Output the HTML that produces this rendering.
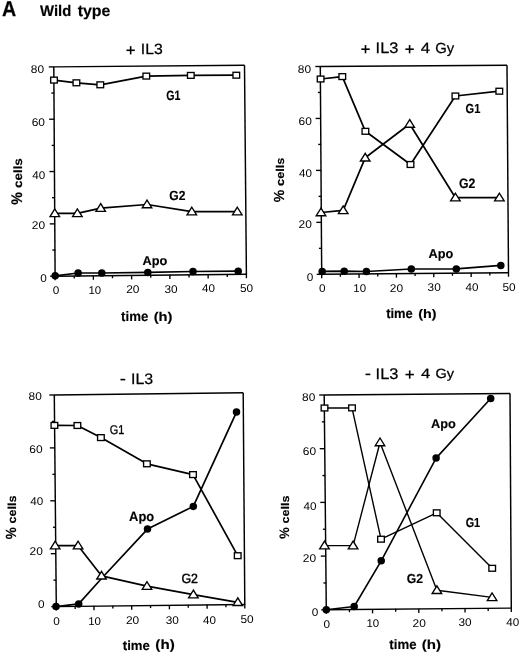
<!DOCTYPE html>
<html><head><meta charset="utf-8"><style>
html,body{margin:0;padding:0;background:#fff;}
body{width:520px;height:655px;overflow:hidden;}
svg{display:block;font-family:"Liberation Sans", sans-serif;filter:grayscale(1);text-rendering:geometricPrecision;}
</style></head><body>
<svg width="520" height="655" viewBox="0 0 520 655" stroke="#000" fill="#000" stroke-linecap="butt">
<text transform="translate(1.91,16.40) scale(0.9124,1)" font-size="21.59" font-weight="bold" stroke="#000" stroke-width="0.25" stroke-linejoin="round">A</text>
<text transform="translate(40.10,15.70) scale(0.9660,1)" font-size="15.36" font-weight="bold" stroke="#000" stroke-width="0.15" stroke-linejoin="round">Wild</text>
<text transform="translate(77.64,15.70) scale(1.0045,1)" font-size="15.85" font-weight="bold" stroke="#000" stroke-width="0.15" stroke-linejoin="round">type</text>
<line x1="53.80" y1="66.90" x2="244.50" y2="65.30" stroke-width="1.45"/>
<line x1="244.50" y1="65.30" x2="246.40" y2="274.20" stroke-width="1.45"/>
<line x1="246.40" y1="274.20" x2="55.10" y2="276.20" stroke-width="1.45"/>
<line x1="55.10" y1="276.20" x2="53.80" y2="66.90" stroke-width="1.45"/>
<line x1="50.10" y1="276.20" x2="55.40" y2="276.20" stroke-width="1.35"/>
<line x1="52.34" y1="250.04" x2="55.24" y2="250.04" stroke-width="1.35"/>
<line x1="49.77" y1="223.88" x2="55.07" y2="223.88" stroke-width="1.35"/>
<line x1="52.01" y1="197.71" x2="54.91" y2="197.71" stroke-width="1.35"/>
<line x1="49.45" y1="171.55" x2="54.75" y2="171.55" stroke-width="1.35"/>
<line x1="51.69" y1="145.39" x2="54.59" y2="145.39" stroke-width="1.35"/>
<line x1="49.12" y1="119.22" x2="54.42" y2="119.22" stroke-width="1.35"/>
<line x1="51.36" y1="93.06" x2="54.26" y2="93.06" stroke-width="1.35"/>
<line x1="48.80" y1="66.90" x2="54.10" y2="66.90" stroke-width="1.35"/>
<line x1="55.10" y1="275.90" x2="55.10" y2="280.20" stroke-width="1.35"/>
<line x1="74.23" y1="275.70" x2="74.23" y2="278.60" stroke-width="1.35"/>
<line x1="93.36" y1="275.50" x2="93.36" y2="279.80" stroke-width="1.35"/>
<line x1="112.49" y1="275.30" x2="112.49" y2="278.20" stroke-width="1.35"/>
<line x1="131.62" y1="275.10" x2="131.62" y2="279.40" stroke-width="1.35"/>
<line x1="150.75" y1="274.90" x2="150.75" y2="277.80" stroke-width="1.35"/>
<line x1="169.88" y1="274.70" x2="169.88" y2="279.00" stroke-width="1.35"/>
<line x1="189.01" y1="274.50" x2="189.01" y2="277.40" stroke-width="1.35"/>
<line x1="208.14" y1="274.30" x2="208.14" y2="278.60" stroke-width="1.35"/>
<line x1="227.27" y1="274.10" x2="227.27" y2="277.00" stroke-width="1.35"/>
<line x1="246.40" y1="273.90" x2="246.40" y2="278.20" stroke-width="1.35"/>
<polyline points="54.00,80.10 76.40,82.80 100.30,84.80 146.30,76.10 190.80,75.40 236.30,75.20" fill="none" stroke-width="1.7" stroke-linejoin="round"/>
<polyline points="54.80,213.40 77.40,213.40 100.70,208.10 147.00,204.50 191.80,211.70 237.30,211.70" fill="none" stroke-width="1.7" stroke-linejoin="round"/>
<polyline points="55.20,275.80 78.10,273.00 101.80,273.00 147.80,272.40 193.00,271.50 238.20,271.20" fill="none" stroke-width="1.7" stroke-linejoin="round"/>
<circle cx="55.20" cy="275.80" r="3.75" fill="#000" stroke="none"/>
<circle cx="78.10" cy="273.00" r="3.75" fill="#000" stroke="none"/>
<circle cx="101.80" cy="273.00" r="3.75" fill="#000" stroke="none"/>
<circle cx="147.80" cy="272.40" r="3.75" fill="#000" stroke="none"/>
<circle cx="193.00" cy="271.50" r="3.75" fill="#000" stroke="none"/>
<circle cx="238.20" cy="271.20" r="3.75" fill="#000" stroke="none"/>
<rect x="50.67" y="77.17" width="6.65" height="5.85" fill="#fff" stroke-width="1.35"/>
<rect x="73.08" y="79.88" width="6.65" height="5.85" fill="#fff" stroke-width="1.35"/>
<rect x="96.97" y="81.88" width="6.65" height="5.85" fill="#fff" stroke-width="1.35"/>
<rect x="142.98" y="73.17" width="6.65" height="5.85" fill="#fff" stroke-width="1.35"/>
<rect x="187.48" y="72.48" width="6.65" height="5.85" fill="#fff" stroke-width="1.35"/>
<rect x="232.98" y="72.28" width="6.65" height="5.85" fill="#fff" stroke-width="1.35"/>
<polygon points="54.80,208.92 50.02,216.62 59.58,216.62" fill="#fff" stroke-width="1.35" stroke-linejoin="miter"/>
<polygon points="77.40,208.92 72.62,216.62 82.19,216.62" fill="#fff" stroke-width="1.35" stroke-linejoin="miter"/>
<polygon points="100.70,203.62 95.92,211.32 105.48,211.32" fill="#fff" stroke-width="1.35" stroke-linejoin="miter"/>
<polygon points="147.00,200.02 142.22,207.72 151.78,207.72" fill="#fff" stroke-width="1.35" stroke-linejoin="miter"/>
<polygon points="191.80,207.22 187.02,214.92 196.59,214.92" fill="#fff" stroke-width="1.35" stroke-linejoin="miter"/>
<polygon points="237.30,207.22 232.52,214.92 242.09,214.92" fill="#fff" stroke-width="1.35" stroke-linejoin="miter"/>
<line x1="126.45" y1="50.30" x2="134.85" y2="50.30" stroke-width="1.6"/>
<line x1="130.65" y1="46.20" x2="130.65" y2="54.40" stroke-width="1.6"/>
<text transform="translate(140.78,54.00) scale(1.0619,1)" font-size="14.86" font-weight="normal" stroke="#000" stroke-width="0.25" stroke-linejoin="round">IL3</text>
<text transform="translate(166.27,99.50) scale(0.7833,1)" font-size="13.57" font-weight="bold" stroke="#000" stroke-width="0.15" stroke-linejoin="round">G1</text>
<text transform="translate(169.22,200.40) scale(0.9116,1)" font-size="13.29" font-weight="bold" stroke="#000" stroke-width="0.15" stroke-linejoin="round">G2</text>
<text transform="translate(142.48,264.90) scale(1.0010,1)" font-size="12.75" font-weight="bold" stroke="#000" stroke-width="0.15" stroke-linejoin="round">Apo</text>
<text transform="translate(121.07,320.50) scale(0.9608,1)" font-size="13.77" font-weight="bold" stroke="#000" stroke-width="0.15" stroke-linejoin="round">time</text>
<text transform="translate(153.67,320.80) scale(1.1429,1)" font-size="12.83" font-weight="bold" stroke="#000" stroke-width="0.15" stroke-linejoin="round">(h)</text>
<text transform="translate(21.90,188.04) rotate(-90) scale(1.1189,1)" font-size="12.00" font-weight="bold" stroke="#000" stroke-width="0.15" stroke-linejoin="round">cells</text>
<text transform="translate(21.90,204.66) rotate(-90) scale(0.9279,1)" font-size="15.40" font-weight="bold" stroke="#000" stroke-width="0.15" stroke-linejoin="round">%</text>
<text transform="translate(30.76,73.25) scale(1.0546,1)" font-size="11.29" font-weight="normal" stroke="none">80</text>
<text transform="translate(31.70,125.55) scale(1.0598,1)" font-size="11.29" font-weight="normal" stroke="none">60</text>
<text transform="translate(32.21,178.70) scale(1.0345,1)" font-size="11.29" font-weight="normal" stroke="none">40</text>
<text transform="translate(31.80,229.00) scale(1.0598,1)" font-size="11.29" font-weight="normal" stroke="none">20</text>
<text transform="translate(40.23,281.65) scale(1.0446,1)" font-size="11.29" font-weight="normal" stroke="none">0</text>
<text transform="translate(52.73,293.85) scale(1.0446,1)" font-size="11.29" font-weight="normal" stroke="none">0</text>
<text transform="translate(88.44,293.65) scale(1.0152,1)" font-size="11.29" font-weight="normal" stroke="none">10</text>
<text transform="translate(126.15,292.90) scale(1.0598,1)" font-size="11.29" font-weight="normal" stroke="none">20</text>
<text transform="translate(164.38,292.60) scale(1.0495,1)" font-size="11.29" font-weight="normal" stroke="none">30</text>
<text transform="translate(202.11,292.45) scale(1.0345,1)" font-size="11.29" font-weight="normal" stroke="none">40</text>
<text transform="translate(239.93,292.35) scale(1.0495,1)" font-size="11.29" font-weight="normal" stroke="none">50</text>
<line x1="320.30" y1="66.50" x2="507.00" y2="65.20" stroke-width="1.45"/>
<line x1="507.00" y1="65.20" x2="508.50" y2="272.70" stroke-width="1.45"/>
<line x1="508.50" y1="272.70" x2="321.70" y2="274.30" stroke-width="1.45"/>
<line x1="321.70" y1="274.30" x2="320.30" y2="66.50" stroke-width="1.45"/>
<line x1="316.70" y1="274.30" x2="322.00" y2="274.30" stroke-width="1.35"/>
<line x1="318.92" y1="248.33" x2="321.82" y2="248.33" stroke-width="1.35"/>
<line x1="316.35" y1="222.35" x2="321.65" y2="222.35" stroke-width="1.35"/>
<line x1="318.57" y1="196.38" x2="321.48" y2="196.38" stroke-width="1.35"/>
<line x1="316.00" y1="170.40" x2="321.30" y2="170.40" stroke-width="1.35"/>
<line x1="318.22" y1="144.43" x2="321.12" y2="144.43" stroke-width="1.35"/>
<line x1="315.65" y1="118.45" x2="320.95" y2="118.45" stroke-width="1.35"/>
<line x1="317.88" y1="92.47" x2="320.78" y2="92.47" stroke-width="1.35"/>
<line x1="315.30" y1="66.50" x2="320.60" y2="66.50" stroke-width="1.35"/>
<line x1="321.70" y1="274.00" x2="321.70" y2="278.30" stroke-width="1.35"/>
<line x1="340.38" y1="273.84" x2="340.38" y2="276.74" stroke-width="1.35"/>
<line x1="359.06" y1="273.68" x2="359.06" y2="277.98" stroke-width="1.35"/>
<line x1="377.74" y1="273.52" x2="377.74" y2="276.42" stroke-width="1.35"/>
<line x1="396.42" y1="273.36" x2="396.42" y2="277.66" stroke-width="1.35"/>
<line x1="415.10" y1="273.20" x2="415.10" y2="276.10" stroke-width="1.35"/>
<line x1="433.78" y1="273.04" x2="433.78" y2="277.34" stroke-width="1.35"/>
<line x1="452.46" y1="272.88" x2="452.46" y2="275.78" stroke-width="1.35"/>
<line x1="471.14" y1="272.72" x2="471.14" y2="277.02" stroke-width="1.35"/>
<line x1="489.82" y1="272.56" x2="489.82" y2="275.46" stroke-width="1.35"/>
<line x1="508.50" y1="272.40" x2="508.50" y2="276.70" stroke-width="1.35"/>
<polyline points="320.60,79.00 342.30,76.60 365.40,131.30 410.50,164.50 455.40,96.00 499.30,91.20" fill="none" stroke-width="1.7" stroke-linejoin="round"/>
<polyline points="321.00,212.50 343.20,210.40 365.20,157.80 409.70,124.00 455.40,197.70 499.40,197.70" fill="none" stroke-width="1.7" stroke-linejoin="round"/>
<polyline points="322.20,271.40 344.20,271.20 366.40,271.50 411.30,269.00 456.30,268.90 500.80,265.40" fill="none" stroke-width="1.7" stroke-linejoin="round"/>
<circle cx="322.20" cy="271.40" r="3.75" fill="#000" stroke="none"/>
<circle cx="344.20" cy="271.20" r="3.75" fill="#000" stroke="none"/>
<circle cx="366.40" cy="271.50" r="3.75" fill="#000" stroke="none"/>
<circle cx="411.30" cy="269.00" r="3.75" fill="#000" stroke="none"/>
<circle cx="456.30" cy="268.90" r="3.75" fill="#000" stroke="none"/>
<circle cx="500.80" cy="265.40" r="3.75" fill="#000" stroke="none"/>
<rect x="317.28" y="76.08" width="6.65" height="5.85" fill="#fff" stroke-width="1.35"/>
<rect x="338.98" y="73.67" width="6.65" height="5.85" fill="#fff" stroke-width="1.35"/>
<rect x="362.07" y="128.38" width="6.65" height="5.85" fill="#fff" stroke-width="1.35"/>
<rect x="407.18" y="161.58" width="6.65" height="5.85" fill="#fff" stroke-width="1.35"/>
<rect x="452.07" y="93.08" width="6.65" height="5.85" fill="#fff" stroke-width="1.35"/>
<rect x="495.98" y="88.28" width="6.65" height="5.85" fill="#fff" stroke-width="1.35"/>
<polygon points="321.00,208.02 316.21,215.72 325.79,215.72" fill="#fff" stroke-width="1.35" stroke-linejoin="miter"/>
<polygon points="343.20,205.92 338.41,213.62 347.99,213.62" fill="#fff" stroke-width="1.35" stroke-linejoin="miter"/>
<polygon points="365.20,153.32 360.41,161.03 369.99,161.03" fill="#fff" stroke-width="1.35" stroke-linejoin="miter"/>
<polygon points="409.70,119.52 404.91,127.23 414.49,127.23" fill="#fff" stroke-width="1.35" stroke-linejoin="miter"/>
<polygon points="455.40,193.22 450.61,200.92 460.19,200.92" fill="#fff" stroke-width="1.35" stroke-linejoin="miter"/>
<polygon points="499.40,193.22 494.61,200.92 504.19,200.92" fill="#fff" stroke-width="1.35" stroke-linejoin="miter"/>
<line x1="361.30" y1="49.20" x2="369.70" y2="49.20" stroke-width="1.6"/>
<line x1="365.50" y1="45.10" x2="365.50" y2="53.30" stroke-width="1.6"/>
<text transform="translate(375.58,52.90) scale(1.0712,1)" font-size="15.29" font-weight="normal" stroke="#000" stroke-width="0.25" stroke-linejoin="round">IL3</text>
<line x1="405.40" y1="49.20" x2="413.80" y2="49.20" stroke-width="1.6"/>
<line x1="409.60" y1="45.10" x2="409.60" y2="53.30" stroke-width="1.6"/>
<text transform="translate(420.78,52.50) scale(1.1365,1)" font-size="14.78" font-weight="normal" stroke="#000" stroke-width="0.25" stroke-linejoin="round">4</text>
<text transform="translate(435.26,52.50) scale(1.0196,1)" font-size="14.57" font-weight="normal" stroke="#000" stroke-width="0.25" stroke-linejoin="round">Gy</text>
<text transform="translate(465.56,113.20) scale(0.8447,1)" font-size="13.14" font-weight="bold" stroke="#000" stroke-width="0.15" stroke-linejoin="round">G1</text>
<text transform="translate(458.91,188.20) scale(0.8948,1)" font-size="13.71" font-weight="bold" stroke="#000" stroke-width="0.15" stroke-linejoin="round">G2</text>
<text transform="translate(428.48,258.30) scale(0.9897,1)" font-size="12.90" font-weight="bold" stroke="#000" stroke-width="0.15" stroke-linejoin="round">Apo</text>
<text transform="translate(386.17,317.70) scale(0.9522,1)" font-size="13.58" font-weight="bold" stroke="#000" stroke-width="0.15" stroke-linejoin="round">time</text>
<text transform="translate(418.28,317.60) scale(1.1537,1)" font-size="12.41" font-weight="bold" stroke="#000" stroke-width="0.15" stroke-linejoin="round">(h)</text>
<text transform="translate(284.40,185.91) rotate(-90) scale(1.1253,1)" font-size="11.31" font-weight="bold" stroke="#000" stroke-width="0.15" stroke-linejoin="round">cells</text>
<text transform="translate(284.40,202.25) rotate(-90) scale(0.9666,1)" font-size="14.53" font-weight="bold" stroke="#000" stroke-width="0.15" stroke-linejoin="round">%</text>
<text transform="translate(297.81,72.60) scale(1.0546,1)" font-size="11.29" font-weight="normal" stroke="none">80</text>
<text transform="translate(298.50,124.90) scale(1.0598,1)" font-size="11.29" font-weight="normal" stroke="none">60</text>
<text transform="translate(299.11,176.90) scale(1.0345,1)" font-size="11.29" font-weight="normal" stroke="none">40</text>
<text transform="translate(298.60,227.95) scale(1.0598,1)" font-size="11.29" font-weight="normal" stroke="none">20</text>
<text transform="translate(306.78,280.70) scale(1.0446,1)" font-size="11.29" font-weight="normal" stroke="none">0</text>
<text transform="translate(318.93,292.40) scale(1.0446,1)" font-size="11.29" font-weight="normal" stroke="none">0</text>
<text transform="translate(353.29,292.25) scale(1.0152,1)" font-size="11.29" font-weight="normal" stroke="none">10</text>
<text transform="translate(389.80,291.95) scale(1.0598,1)" font-size="11.29" font-weight="normal" stroke="none">20</text>
<text transform="translate(427.58,291.35) scale(1.0495,1)" font-size="11.29" font-weight="normal" stroke="none">30</text>
<text transform="translate(465.56,291.25) scale(1.0345,1)" font-size="11.29" font-weight="normal" stroke="none">40</text>
<text transform="translate(502.38,291.10) scale(1.0495,1)" font-size="11.29" font-weight="normal" stroke="none">50</text>
<line x1="54.30" y1="395.00" x2="243.20" y2="392.80" stroke-width="1.45"/>
<line x1="243.20" y1="392.80" x2="244.80" y2="604.40" stroke-width="1.45"/>
<line x1="244.80" y1="604.40" x2="56.30" y2="606.60" stroke-width="1.45"/>
<line x1="56.30" y1="606.60" x2="54.30" y2="395.00" stroke-width="1.45"/>
<line x1="51.30" y1="606.60" x2="56.60" y2="606.60" stroke-width="1.35"/>
<line x1="53.45" y1="580.15" x2="56.35" y2="580.15" stroke-width="1.35"/>
<line x1="50.80" y1="553.70" x2="56.10" y2="553.70" stroke-width="1.35"/>
<line x1="52.95" y1="527.25" x2="55.85" y2="527.25" stroke-width="1.35"/>
<line x1="50.30" y1="500.80" x2="55.60" y2="500.80" stroke-width="1.35"/>
<line x1="52.45" y1="474.35" x2="55.35" y2="474.35" stroke-width="1.35"/>
<line x1="49.80" y1="447.90" x2="55.10" y2="447.90" stroke-width="1.35"/>
<line x1="51.95" y1="421.45" x2="54.85" y2="421.45" stroke-width="1.35"/>
<line x1="49.30" y1="395.00" x2="54.60" y2="395.00" stroke-width="1.35"/>
<line x1="56.30" y1="606.30" x2="56.30" y2="610.60" stroke-width="1.35"/>
<line x1="75.15" y1="606.08" x2="75.15" y2="608.98" stroke-width="1.35"/>
<line x1="94.00" y1="605.86" x2="94.00" y2="610.16" stroke-width="1.35"/>
<line x1="112.85" y1="605.64" x2="112.85" y2="608.54" stroke-width="1.35"/>
<line x1="131.70" y1="605.42" x2="131.70" y2="609.72" stroke-width="1.35"/>
<line x1="150.55" y1="605.20" x2="150.55" y2="608.10" stroke-width="1.35"/>
<line x1="169.40" y1="604.98" x2="169.40" y2="609.28" stroke-width="1.35"/>
<line x1="188.25" y1="604.76" x2="188.25" y2="607.66" stroke-width="1.35"/>
<line x1="207.10" y1="604.54" x2="207.10" y2="608.84" stroke-width="1.35"/>
<line x1="225.95" y1="604.32" x2="225.95" y2="607.22" stroke-width="1.35"/>
<line x1="244.80" y1="604.10" x2="244.80" y2="608.40" stroke-width="1.35"/>
<polyline points="54.40,425.40 77.40,425.50 100.90,437.60 146.90,463.80 193.00,474.60 237.70,555.70" fill="none" stroke-width="1.7" stroke-linejoin="round"/>
<polyline points="55.20,545.70 78.10,545.70 101.50,575.80 147.00,586.20 193.40,594.60 237.80,602.30" fill="none" stroke-width="1.7" stroke-linejoin="round"/>
<polyline points="56.00,606.60 78.70,603.90 101.50,578.50 147.50,529.10 193.30,506.40 236.50,412.10" fill="none" stroke-width="1.7" stroke-linejoin="round"/>
<circle cx="56.00" cy="606.60" r="3.75" fill="#000" stroke="none"/>
<circle cx="78.70" cy="603.90" r="3.75" fill="#000" stroke="none"/>
<circle cx="147.50" cy="529.10" r="3.75" fill="#000" stroke="none"/>
<circle cx="193.30" cy="506.40" r="3.75" fill="#000" stroke="none"/>
<circle cx="236.50" cy="412.10" r="3.75" fill="#000" stroke="none"/>
<rect x="51.07" y="422.47" width="6.65" height="5.85" fill="#fff" stroke-width="1.35"/>
<rect x="74.08" y="422.57" width="6.65" height="5.85" fill="#fff" stroke-width="1.35"/>
<rect x="97.58" y="434.68" width="6.65" height="5.85" fill="#fff" stroke-width="1.35"/>
<rect x="143.58" y="460.88" width="6.65" height="5.85" fill="#fff" stroke-width="1.35"/>
<rect x="189.68" y="471.68" width="6.65" height="5.85" fill="#fff" stroke-width="1.35"/>
<rect x="234.38" y="552.77" width="6.65" height="5.85" fill="#fff" stroke-width="1.35"/>
<polygon points="55.20,541.22 50.42,548.93 59.98,548.93" fill="#fff" stroke-width="1.35" stroke-linejoin="miter"/>
<polygon points="78.10,541.22 73.31,548.93 82.88,548.93" fill="#fff" stroke-width="1.35" stroke-linejoin="miter"/>
<polygon points="101.50,571.31 96.72,579.02 106.28,579.02" fill="#fff" stroke-width="1.35" stroke-linejoin="miter"/>
<polygon points="147.00,581.72 142.22,589.43 151.78,589.43" fill="#fff" stroke-width="1.35" stroke-linejoin="miter"/>
<polygon points="193.40,590.12 188.62,597.83 198.19,597.83" fill="#fff" stroke-width="1.35" stroke-linejoin="miter"/>
<polygon points="237.80,597.81 233.02,605.52 242.59,605.52" fill="#fff" stroke-width="1.35" stroke-linejoin="miter"/>
<line x1="120.45" y1="379.60" x2="125.25" y2="379.60" stroke-width="1.6"/>
<text transform="translate(130.97,384.40) scale(1.0524,1)" font-size="15.14" font-weight="normal" stroke="#000" stroke-width="0.25" stroke-linejoin="round">IL3</text>
<text transform="translate(109.75,434.20) scale(0.8598,1)" font-size="12.71" font-weight="normal" stroke="#000" stroke-width="0.35" stroke-linejoin="round">G1</text>
<text transform="translate(181.38,583.20) scale(0.9226,1)" font-size="13.43" font-weight="normal" stroke="#000" stroke-width="0.45" stroke-linejoin="round">G2</text>
<text transform="translate(129.08,520.60) scale(0.9694,1)" font-size="13.33" font-weight="bold" stroke="#000" stroke-width="0.15" stroke-linejoin="round">Apo</text>
<text transform="translate(122.77,649.50) scale(0.9842,1)" font-size="13.40" font-weight="bold" stroke="#000" stroke-width="0.15" stroke-linejoin="round">time</text>
<text transform="translate(155.34,649.30) scale(1.1222,1)" font-size="13.52" font-weight="bold" stroke="#000" stroke-width="0.15" stroke-linejoin="round">(h)</text>
<text transform="translate(16.00,523.50) rotate(-90) scale(1.0824,1)" font-size="11.59" font-weight="bold" stroke="#000" stroke-width="0.15" stroke-linejoin="round">cells</text>
<text transform="translate(16.00,539.34) rotate(-90) scale(0.9166,1)" font-size="14.68" font-weight="bold" stroke="#000" stroke-width="0.15" stroke-linejoin="round">%</text>
<text transform="translate(28.56,399.50) scale(1.0546,1)" font-size="11.29" font-weight="normal" stroke="none">80</text>
<text transform="translate(29.30,453.00) scale(1.0598,1)" font-size="11.29" font-weight="normal" stroke="none">60</text>
<text transform="translate(30.21,504.95) scale(1.0345,1)" font-size="11.29" font-weight="normal" stroke="none">40</text>
<text transform="translate(29.60,555.35) scale(1.0598,1)" font-size="11.29" font-weight="normal" stroke="none">20</text>
<text transform="translate(37.93,607.60) scale(1.0446,1)" font-size="11.29" font-weight="normal" stroke="none">0</text>
<text transform="translate(53.23,625.20) scale(1.0446,1)" font-size="11.29" font-weight="normal" stroke="none">0</text>
<text transform="translate(88.19,624.95) scale(1.0152,1)" font-size="11.29" font-weight="normal" stroke="none">10</text>
<text transform="translate(125.95,624.45) scale(1.0598,1)" font-size="11.29" font-weight="normal" stroke="none">20</text>
<text transform="translate(165.68,623.60) scale(1.0495,1)" font-size="11.29" font-weight="normal" stroke="none">30</text>
<text transform="translate(203.11,623.60) scale(1.0345,1)" font-size="11.29" font-weight="normal" stroke="none">40</text>
<text transform="translate(240.53,623.45) scale(1.0495,1)" font-size="11.29" font-weight="normal" stroke="none">50</text>
<line x1="324.20" y1="395.00" x2="510.00" y2="393.50" stroke-width="1.45"/>
<line x1="510.00" y1="393.50" x2="511.30" y2="608.10" stroke-width="1.45"/>
<line x1="511.30" y1="608.10" x2="326.30" y2="609.80" stroke-width="1.45"/>
<line x1="326.30" y1="609.80" x2="324.20" y2="395.00" stroke-width="1.45"/>
<line x1="321.30" y1="609.80" x2="326.60" y2="609.80" stroke-width="1.35"/>
<line x1="323.44" y1="582.95" x2="326.34" y2="582.95" stroke-width="1.35"/>
<line x1="320.77" y1="556.10" x2="326.07" y2="556.10" stroke-width="1.35"/>
<line x1="322.91" y1="529.25" x2="325.81" y2="529.25" stroke-width="1.35"/>
<line x1="320.25" y1="502.40" x2="325.55" y2="502.40" stroke-width="1.35"/>
<line x1="322.39" y1="475.55" x2="325.29" y2="475.55" stroke-width="1.35"/>
<line x1="319.73" y1="448.70" x2="325.03" y2="448.70" stroke-width="1.35"/>
<line x1="321.86" y1="421.85" x2="324.76" y2="421.85" stroke-width="1.35"/>
<line x1="319.20" y1="395.00" x2="324.50" y2="395.00" stroke-width="1.35"/>
<line x1="326.30" y1="609.50" x2="326.30" y2="613.80" stroke-width="1.35"/>
<line x1="349.43" y1="609.29" x2="349.43" y2="612.19" stroke-width="1.35"/>
<line x1="372.55" y1="609.08" x2="372.55" y2="613.38" stroke-width="1.35"/>
<line x1="395.68" y1="608.86" x2="395.68" y2="611.76" stroke-width="1.35"/>
<line x1="418.80" y1="608.65" x2="418.80" y2="612.95" stroke-width="1.35"/>
<line x1="441.93" y1="608.44" x2="441.93" y2="611.34" stroke-width="1.35"/>
<line x1="465.05" y1="608.23" x2="465.05" y2="612.52" stroke-width="1.35"/>
<line x1="488.18" y1="608.01" x2="488.18" y2="610.91" stroke-width="1.35"/>
<line x1="511.30" y1="607.80" x2="511.30" y2="612.10" stroke-width="1.35"/>
<polyline points="324.50,408.00 352.00,407.90 381.00,539.20 436.70,512.80 492.20,568.30" fill="none" stroke-width="1.4" stroke-linejoin="round"/>
<polyline points="324.50,545.60 353.10,545.60 380.00,442.50 436.90,590.30 492.10,597.40" fill="none" stroke-width="1.4" stroke-linejoin="round"/>
<polyline points="326.30,609.80 354.20,606.50 381.20,560.80 436.10,458.10 490.70,398.50" fill="none" stroke-width="1.6" stroke-linejoin="round"/>
<circle cx="326.30" cy="609.80" r="3.75" fill="#000" stroke="none"/>
<circle cx="354.20" cy="606.50" r="3.75" fill="#000" stroke="none"/>
<circle cx="381.20" cy="560.80" r="3.75" fill="#000" stroke="none"/>
<circle cx="436.10" cy="458.10" r="3.75" fill="#000" stroke="none"/>
<circle cx="490.70" cy="398.50" r="3.75" fill="#000" stroke="none"/>
<rect x="321.18" y="405.07" width="6.65" height="5.85" fill="#fff" stroke-width="1.35"/>
<rect x="348.68" y="404.97" width="6.65" height="5.85" fill="#fff" stroke-width="1.35"/>
<rect x="377.68" y="536.27" width="6.65" height="5.85" fill="#fff" stroke-width="1.35"/>
<rect x="433.38" y="509.87" width="6.65" height="5.85" fill="#fff" stroke-width="1.35"/>
<rect x="488.88" y="565.37" width="6.65" height="5.85" fill="#fff" stroke-width="1.35"/>
<polygon points="324.50,541.12 319.71,548.83 329.29,548.83" fill="#fff" stroke-width="1.35" stroke-linejoin="miter"/>
<polygon points="353.10,541.12 348.31,548.83 357.89,548.83" fill="#fff" stroke-width="1.35" stroke-linejoin="miter"/>
<polygon points="380.00,438.01 375.21,445.72 384.79,445.72" fill="#fff" stroke-width="1.35" stroke-linejoin="miter"/>
<polygon points="436.90,585.81 432.11,593.52 441.69,593.52" fill="#fff" stroke-width="1.35" stroke-linejoin="miter"/>
<polygon points="492.10,592.91 487.31,600.62 496.89,600.62" fill="#fff" stroke-width="1.35" stroke-linejoin="miter"/>
<line x1="365.55" y1="374.40" x2="370.35" y2="374.40" stroke-width="1.6"/>
<text transform="translate(375.62,378.90) scale(1.0639,1)" font-size="15.43" font-weight="normal" stroke="#000" stroke-width="0.25" stroke-linejoin="round">IL3</text>
<line x1="405.50" y1="374.55" x2="413.90" y2="374.55" stroke-width="1.6"/>
<line x1="409.70" y1="370.45" x2="409.70" y2="378.65" stroke-width="1.6"/>
<text transform="translate(420.88,378.40) scale(1.2185,1)" font-size="13.62" font-weight="normal" stroke="#000" stroke-width="0.25" stroke-linejoin="round">4</text>
<text transform="translate(435.57,378.40) scale(1.0821,1)" font-size="13.43" font-weight="normal" stroke="#000" stroke-width="0.25" stroke-linejoin="round">Gy</text>
<text transform="translate(465.67,527.40) scale(0.8268,1)" font-size="13.14" font-weight="bold" stroke="#000" stroke-width="0.15" stroke-linejoin="round">G1</text>
<text transform="translate(406.81,583.40) scale(0.9378,1)" font-size="13.00" font-weight="bold" stroke="#000" stroke-width="0.15" stroke-linejoin="round">G2</text>
<text transform="translate(431.08,428.10) scale(1.0010,1)" font-size="12.75" font-weight="bold" stroke="#000" stroke-width="0.15" stroke-linejoin="round">Apo</text>
<text transform="translate(389.37,649.40) scale(0.9705,1)" font-size="13.58" font-weight="bold" stroke="#000" stroke-width="0.15" stroke-linejoin="round">time</text>
<text transform="translate(421.65,649.30) scale(1.1512,1)" font-size="13.10" font-weight="bold" stroke="#000" stroke-width="0.15" stroke-linejoin="round">(h)</text>
<text transform="translate(289.10,523.50) rotate(-90) scale(1.1225,1)" font-size="11.17" font-weight="bold" stroke="#000" stroke-width="0.15" stroke-linejoin="round">cells</text>
<text transform="translate(289.10,538.82) rotate(-90) scale(0.9406,1)" font-size="13.67" font-weight="bold" stroke="#000" stroke-width="0.15" stroke-linejoin="round">%</text>
<text transform="translate(302.11,400.90) scale(1.0546,1)" font-size="11.29" font-weight="normal" stroke="none">80</text>
<text transform="translate(302.75,455.35) scale(1.0598,1)" font-size="11.29" font-weight="normal" stroke="none">60</text>
<text transform="translate(303.41,509.50) scale(1.0345,1)" font-size="11.29" font-weight="normal" stroke="none">40</text>
<text transform="translate(302.80,561.80) scale(1.0598,1)" font-size="11.29" font-weight="normal" stroke="none">20</text>
<text transform="translate(311.73,615.95) scale(1.0446,1)" font-size="11.29" font-weight="normal" stroke="none">0</text>
<text transform="translate(323.48,627.80) scale(1.0446,1)" font-size="11.29" font-weight="normal" stroke="none">0</text>
<text transform="translate(366.44,627.25) scale(1.0152,1)" font-size="11.29" font-weight="normal" stroke="none">10</text>
<text transform="translate(412.55,626.80) scale(1.0598,1)" font-size="11.29" font-weight="normal" stroke="none">20</text>
<text transform="translate(458.43,626.45) scale(1.0495,1)" font-size="11.29" font-weight="normal" stroke="none">30</text>
<text transform="translate(506.21,626.15) scale(1.0345,1)" font-size="11.29" font-weight="normal" stroke="none">40</text>
</svg>
</body></html>
